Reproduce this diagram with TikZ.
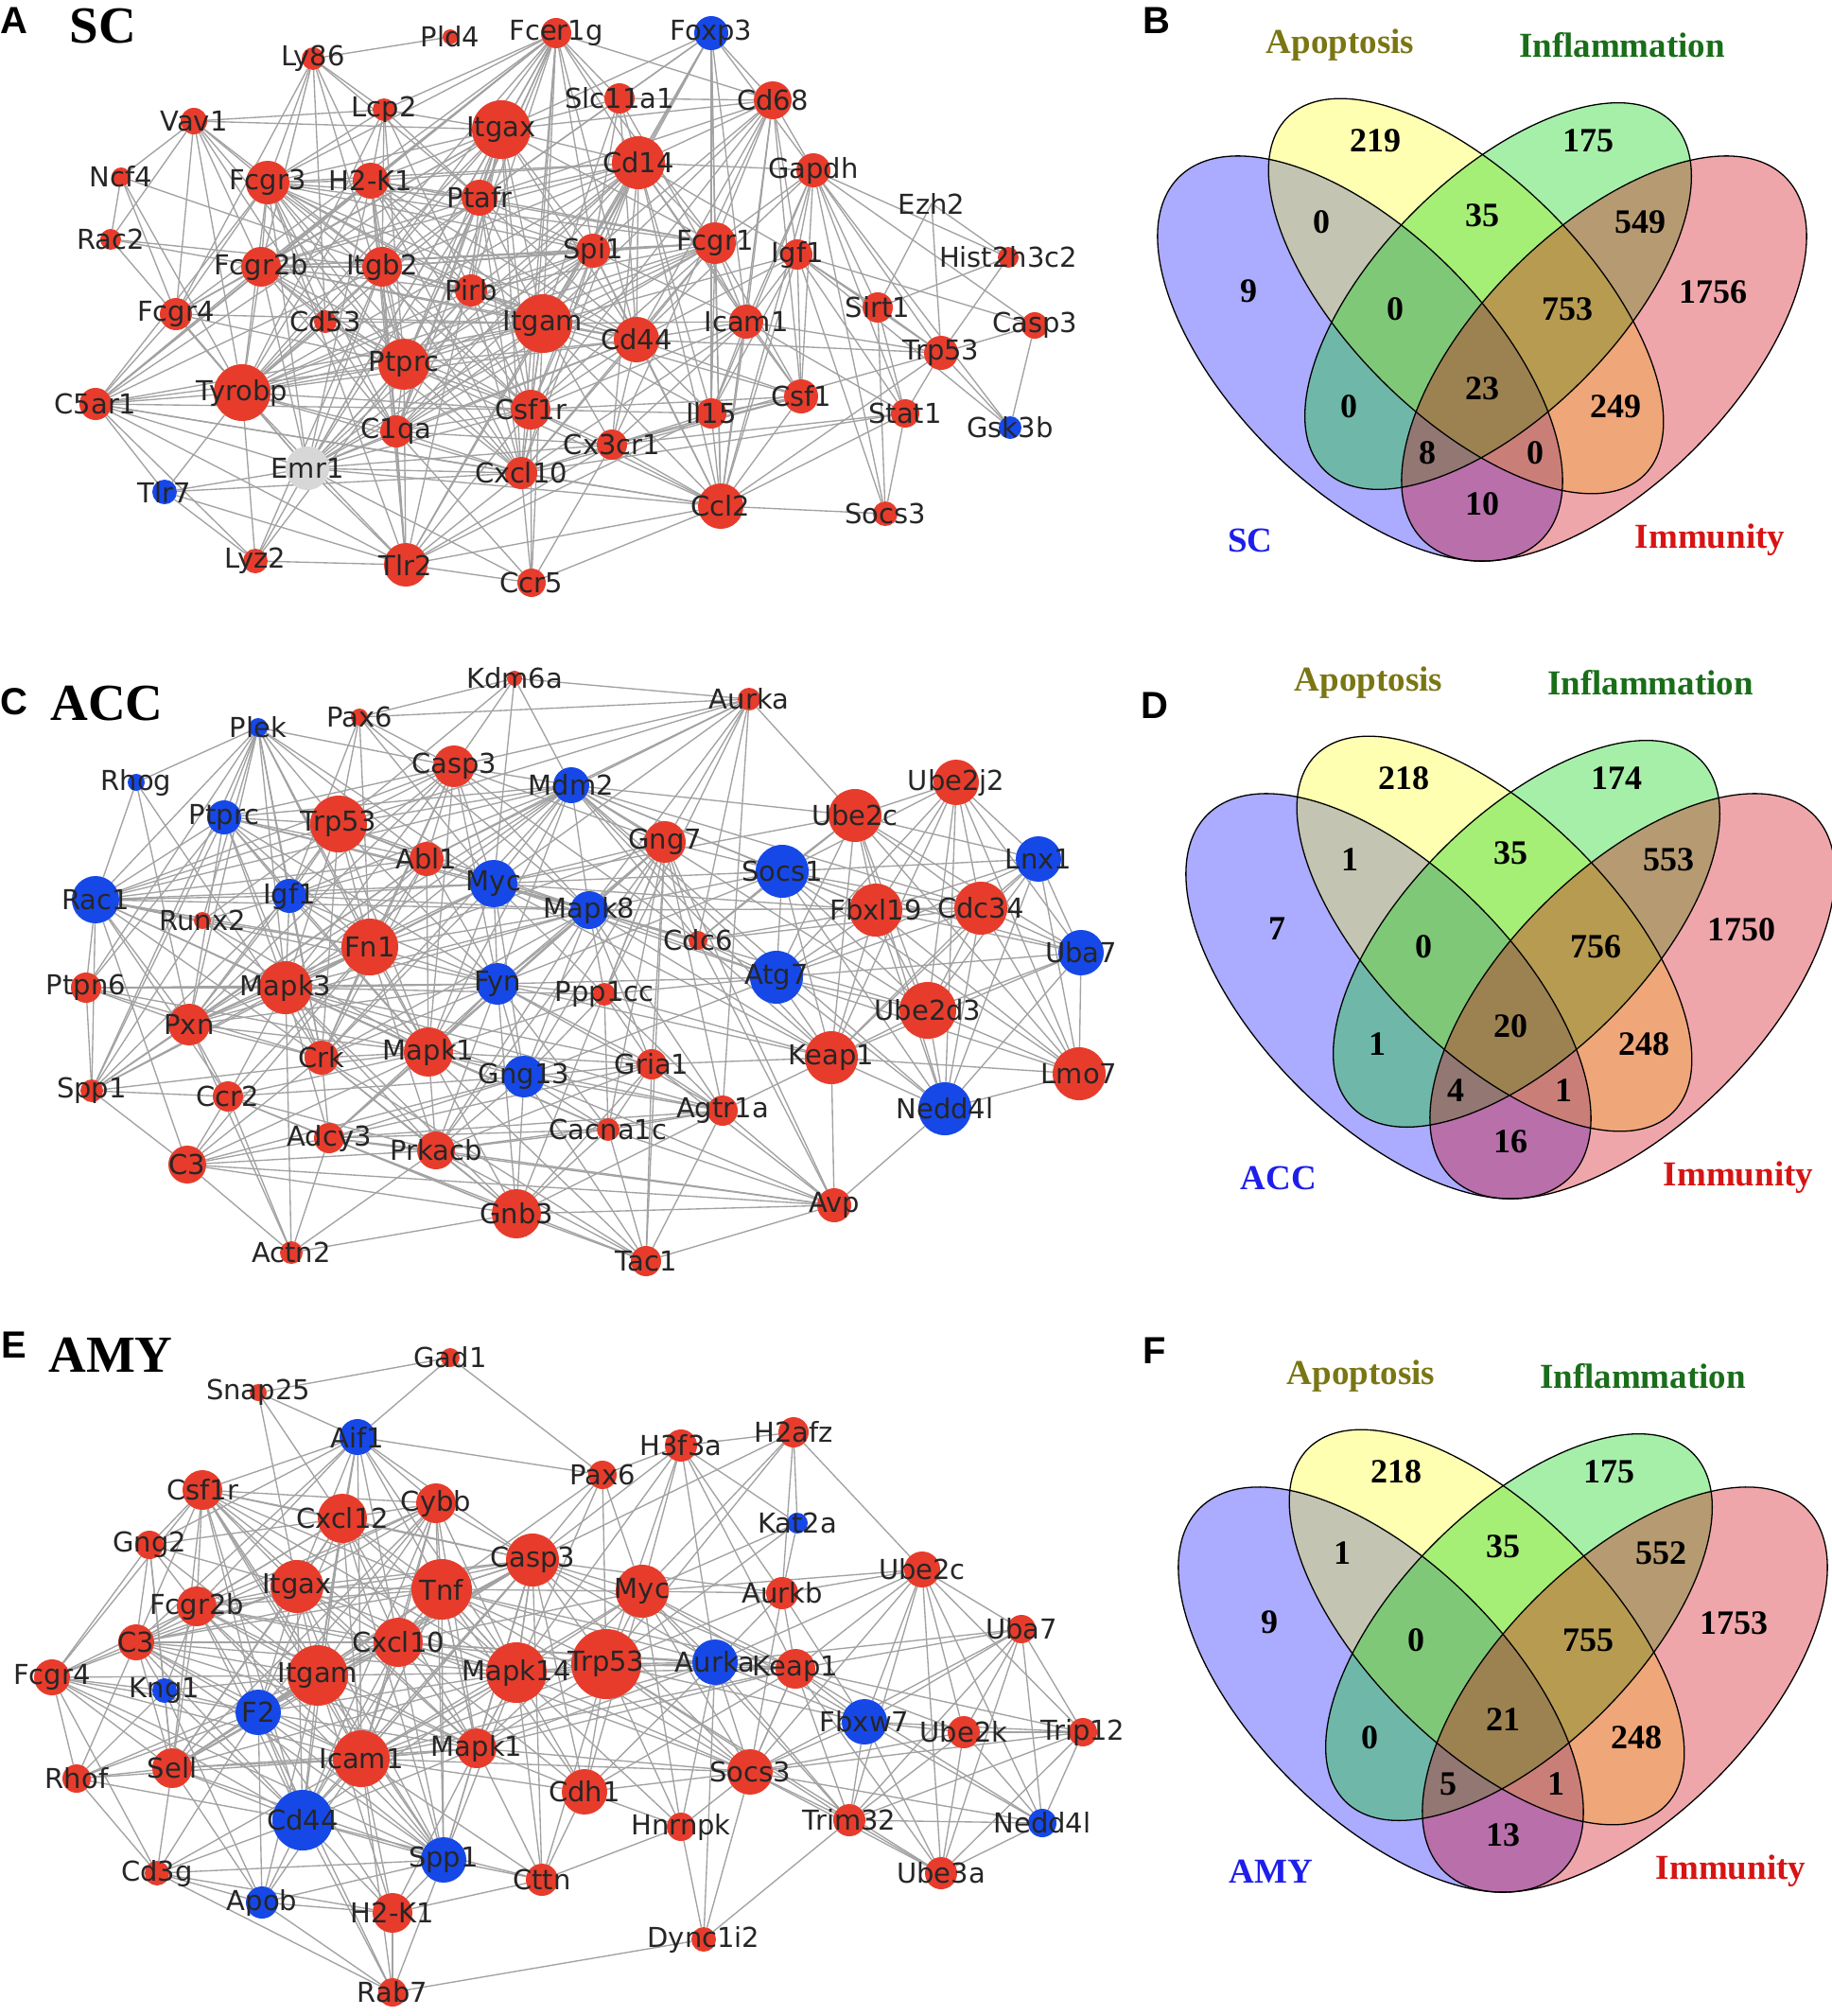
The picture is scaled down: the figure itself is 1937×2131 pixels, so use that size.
\documentclass[tikz,border=0pt]{standalone}
\usepackage{fontspec}
\setmainfont{Liberation Serif}
\newfontfamily\labfont{DejaVu Sans}
\newfontfamily\letfont{Liberation Sans}
\pgfdeclarelayer{bglayer}
\pgfdeclarelayer{edgelayer}
\pgfdeclarelayer{labellayer}
\pgfsetlayers{bglayer,edgelayer,main,labellayer}
\definecolor{nred}{RGB}{231,60,44}
\definecolor{nblue}{RGB}{22,72,232}
\definecolor{ngray}{RGB}{215,215,215}
\definecolor{ecol}{RGB}{162,162,162}
\definecolor{vblue}{RGB}{0,0,255}
\definecolor{vyellow}{RGB}{255,255,0}
\definecolor{vgreen}{RGB}{0,210,10}
\definecolor{vred}{RGB}{212,0,12}
\definecolor{capop}{RGB}{122,118,20}
\definecolor{cinfl}{RGB}{26,110,26}
\definecolor{cset}{RGB}{30,30,235}
\definecolor{cimm}{RGB}{215,20,20}
\tikzset{
 gcirc/.style={circle, draw=none, inner sep=0pt, outer sep=0pt},
 glab/.style={inner sep=0pt, font=\labfont\fontsize{29}{30}\selectfont, text=black!85},
 gedge/.style={draw=ecol, line width=1.35pt},
 ttl/.style={font=\bfseries\fontsize{55}{56}\selectfont, inner sep=0pt},
 plet/.style={font=\letfont\bfseries\fontsize{40}{40}\selectfont, inner sep=0pt},
 vnum/.style={font=\bfseries\fontsize{36}{38}\selectfont, inner sep=0pt},
 vcat/.style={font=\bfseries\fontsize{37}{39}\selectfont, inner sep=0pt},
 vline/.style={draw=black, line width=1.3pt},
}
\newcommand{\gnode}[6]{%
  \node[gcirc, fill=#5, minimum size={2*#4*1pt}] (#1) at (#2,#3) {};%
  \begin{pgfonlayer}{labellayer}\node[glab] (#1L) at (#2,#3) {#6};\end{pgfonlayer}%
}
\newcommand{\edgelist}[1]{%
  \begin{pgfonlayer}{edgelayer}\foreach \u/\v in {#1}{\draw[gedge] (\u) -- (\v);}\end{pgfonlayer}}
\newcommand{\clique}[1]{%
  \begin{pgfonlayer}{edgelayer}\foreach \u [count=\i] in {#1}{\foreach \v [count=\j] in {#1}{\ifnum\j>\i\relax\draw[gedge] (\u) -- (\v);\fi}}\end{pgfonlayer}}
\newcommand{\venn}[4]{%
 \begin{scope}[shift={(#1,#2)}]
  \fill[vblue, fill opacity=0.33, shift={(-129,230)}, rotate=-45] (0,0) ellipse [x radius=271pt, y radius=135pt];
  \fill[vyellow, fill opacity=0.3, shift={(-17,164)}, rotate=-45] (0,0) ellipse [x radius=267pt, y radius=126pt];
  \fill[vgreen, fill opacity=0.35, shift={(17,164)}, rotate=45] (0,0) ellipse [x radius=260pt, y radius=126pt];
  \fill[vred, fill opacity=0.35, shift={(129,230)}, rotate=45] (0,0) ellipse [x radius=271pt, y radius=135pt];
  \draw[vline, shift={(-129,230)}, rotate=-45] (0,0) ellipse [x radius=271pt, y radius=135pt];
  \draw[vline, shift={(129,230)}, rotate=45] (0,0) ellipse [x radius=271pt, y radius=135pt];
  \draw[vline, shift={(-17,164)}, rotate=-45] (0,0) ellipse [x radius=267pt, y radius=126pt];
  \draw[vline, shift={(17,164)}, rotate=45] (0,0) ellipse [x radius=260pt, y radius=126pt];
  \node[vcat, text=capop] (#4apo) at (-150,-101) {Apoptosis};
  \node[vcat, text=cinfl] (#4inf) at (148,-101) {Inflammation};
  \node[vcat, text=cset] (#4set) at (-245,422) {#3};
  \node[vcat, text=cimm] (#4imm) at (241,422) {Immunity};
 \end{scope}}
\newcommand{\vnums}[4]{%
 \begin{scope}[shift={(#1,#2)}]
 \foreach \n [count=\k from 0] in {#4}{%
  \pgfmathsetmacro{\xx}{{-113,112,-170,0,167,-247,-92,90,244,-141,0,141,-58,56,0}[\k]}%
  \pgfmathsetmacro{\yy}{{0,0,86,79,86,159,178,178,160,281,262,281,330,330,384}[\k]}%
  \node[vnum] (#3n\k) at (\xx,\yy) {\n};}
 \end{scope}}
\begin{document}
\begin{tikzpicture}[x=1pt,y=-1pt]
\useasboundingbox (0,0) rectangle (1937,2131);
\begin{pgfonlayer}{bglayer}\fill[white] (0,0) rectangle (1937,2131);\end{pgfonlayer}
% ---------------- Panel A ----------------
\node[plet] (letA) at (15,22) {A};
\node[ttl] (ttlA) at (109,28) {SC};
\gnode{aLy86}{331}{62}{12}{nred}{Ly86}
\gnode{aPld4}{476}{39}{8}{nred}{Pld4}
\gnode{aFcer1g}{588}{35}{16}{nred}{Fcer1g}
\gnode{aFoxp3}{752}{35}{18}{nblue}{Foxp3}
\gnode{aVav1}{205}{128}{14}{nred}{Vav1}
\gnode{aLcp2}{406}{116}{12}{nred}{Lcp2}
\gnode{aItgax}{530}{137}{31}{nred}{Itgax}
\gnode{aSlc11a1}{655}{104}{16}{nred}{Slc11a1}
\gnode{aCd68}{817}{106}{20}{nred}{Cd68}
\gnode{aNcf4}{128}{187}{10}{nred}{Ncf4}
\gnode{aFcgr3}{283}{193}{23}{nred}{Fcgr3}
\gnode{aH2K1}{392}{191}{19}{nred}{H2-K1}
\gnode{aPtafr}{507}{209}{19}{nred}{Ptafr}
\gnode{aCd14}{675}{172}{28}{nred}{Cd14}
\gnode{aGapdh}{860}{180}{18}{nred}{Gapdh}
\gnode{aEzh2}{985}{215}{0}{none}{Ezh2}
\gnode{aHist}{1066}{272}{11}{nred}{Hist2h3c2}
\gnode{aRac2}{117}{253}{11}{nred}{Rac2}
\gnode{aFcgr2b}{276}{282}{21}{nred}{Fcgr2b}
\gnode{aItgb2}{404}{282}{21}{nred}{Itgb2}
\gnode{aPirb}{498}{307}{17}{nred}{Pirb}
\gnode{aSpi1}{627}{265}{18}{nred}{Spi1}
\gnode{aFcgr1}{756}{257}{22}{nred}{Fcgr1}
\gnode{aIgf1}{843}{269}{16}{nred}{Igf1}
\gnode{aFcgr4}{186}{332}{17}{nred}{Fcgr4}
\gnode{aCd53}{344}{340}{12}{nred}{Cd53}
\gnode{aItgam}{574}{342}{31}{nred}{Itgam}
\gnode{aCd44}{673}{359}{24}{nred}{Cd44}
\gnode{aIcam1}{789}{340}{18}{nred}{Icam1}
\gnode{aSirt1}{928}{325}{16}{nred}{Sirt1}
\gnode{aCasp3}{1094}{344}{14}{nred}{Casp3}
\gnode{aTrp53}{995}{373}{18}{nred}{Trp53}
\gnode{aPtprc}{427}{385}{27}{nred}{Ptprc}
\gnode{aTyrobp}{256}{415}{30}{nred}{Tyrobp}
\gnode{aC5ar1}{101}{427}{17}{nred}{C5ar1}
\gnode{aCsf1r}{561}{433}{21}{nred}{Csf1r}
\gnode{aIl15}{752}{437}{16}{nred}{Il15}
\gnode{aCsf1}{847}{419}{18}{nred}{Csf1}
\gnode{aStat1}{957}{437}{15}{nred}{Stat1}
\gnode{aGsk3b}{1068}{452}{12}{nblue}{Gsk3b}
\gnode{aC1qa}{419}{456}{17}{nred}{C1qa}
\gnode{aEmr1}{325}{495}{23}{ngray}{Emr1}
\gnode{aCxcl10}{551}{500}{17}{nred}{Cxcl10}
\gnode{aCx3cr1}{647}{470}{16}{nred}{Cx3cr1}
\gnode{aTlr7}{174}{520}{13}{nblue}{Tlr7}
\gnode{aCcl2}{762}{535}{24}{nred}{Ccl2}
\gnode{aSocs3}{936}{543}{13}{nred}{Socs3}
\gnode{aLyz2}{270}{593}{13}{nred}{Lyz2}
\gnode{aTlr2}{429}{597}{23}{nred}{Tlr2}
\gnode{aCcr5}{562}{616}{15}{nred}{Ccr5}
\clique{aItgax,aItgam,aPtprc,aItgb2,aFcgr3,aFcgr2b,aFcgr1,aCd14,aCd44,aCsf1r,aTyrobp,aH2K1,aPtafr,aPirb,aSpi1,aFcer1g,aC1qa,aEmr1,aCxcl10}
\edgelist{aLy86/aPld4,aLy86/aFcgr3,aLy86/aFcgr2b,aLy86/aFcgr4,aLy86/aH2K1,aLy86/aCd53,aLy86/aPtafr,aLy86/aPtprc,aLy86/aLcp2,
aVav1/aNcf4,aVav1/aRac2,aVav1/aLcp2,aVav1/aFcgr3,aVav1/aFcgr2b,aVav1/aFcgr4,aVav1/aItgb2,aVav1/aCd53,aVav1/aPtprc,aVav1/aTyrobp,aVav1/aItgax,
aNcf4/aRac2,aNcf4/aItgb2,aNcf4/aTyrobp,aNcf4/aFcgr4,aRac2/aItgb2,aRac2/aFcgr2b,aRac2/aTyrobp,
aLcp2/aPtprc,aLcp2/aItgb2,aLcp2/aH2K1,aLcp2/aFcgr3,aLcp2/aFcer1g,aLcp2/aTyrobp,aLcp2/aPirb,aLcp2/aItgax,aLcp2/aPtafr,
aFcgr4/aFcgr3,aFcgr4/aFcgr2b,aFcgr4/aItgax,aFcgr4/aTyrobp,aFcgr4/aFcer1g,aFcgr4/aC5ar1,aFcgr4/aItgam,aFcgr4/aEmr1,aFcgr4/aPtprc,
aCd53/aPtprc,aCd53/aItgb2,aCd53/aTyrobp,aCd53/aFcgr3,aCd53/aItgam,aCd53/aCsf1r,aCd53/aFcgr2b,aCd53/aC1qa,
aC5ar1/aFcgr3,aC5ar1/aFcgr2b,aC5ar1/aItgb2,aC5ar1/aItgax,aC5ar1/aTyrobp,aC5ar1/aPtprc,aC5ar1/aEmr1,aC5ar1/aCxcl10,aC5ar1/aTlr7,aC5ar1/aTlr2,aC5ar1/aCcl2,aC5ar1/aCsf1r,aC5ar1/aH2K1,aC5ar1/aFcer1g,aC5ar1/aLyz2,aC5ar1/aItgam,
aTlr7/aTyrobp,aTlr7/aEmr1,aTlr7/aTlr2,aTlr7/aLyz2,aTlr7/aCxcl10,
aLyz2/aTyrobp,aLyz2/aEmr1,aLyz2/aTlr2,aLyz2/aPtprc,aLyz2/aItgb2,
aTlr2/aTyrobp,aTlr2/aEmr1,aTlr2/aPtprc,aTlr2/aC1qa,aTlr2/aCxcl10,aTlr2/aCsf1r,aTlr2/aItgam,aTlr2/aCcr5,aTlr2/aCcl2,aTlr2/aCd14,aTlr2/aItgax,aTlr2/aFcgr3,aTlr2/aItgb2,aTlr2/aH2K1,aTlr2/aCx3cr1,aTlr2/aIl15,
aCcr5/aCcl2,aCcr5/aCx3cr1,aCcr5/aCxcl10,aCcr5/aCsf1r,aCcr5/aItgam,aCcr5/aC1qa,aCcr5/aEmr1,
aFoxp3/aSlc11a1,aFoxp3/aCd68,aFoxp3/aCd14,aFoxp3/aItgax,aFoxp3/aIl15,aFoxp3/aCcl2,aFoxp3/aGapdh,aFoxp3/aFcgr1,aFoxp3/aIcam1,aFoxp3/aSpi1,aFoxp3/aItgam,aFoxp3/aPtafr,
aSlc11a1/aCd68,aSlc11a1/aCd14,aSlc11a1/aItgax,aSlc11a1/aItgam,aSlc11a1/aSpi1,aSlc11a1/aCd44,aSlc11a1/aFcer1g,aSlc11a1/aIcam1,aSlc11a1/aPtafr,
aCd68/aCd14,aCd68/aGapdh,aCd68/aFcgr1,aCd68/aIgf1,aCd68/aIcam1,aCd68/aCcl2,aCd68/aItgam,aCd68/aItgax,aCd68/aSpi1,aCd68/aCd44,aCd68/aCsf1r,aCd68/aCsf1,aCd68/aPtafr,aCd68/aCx3cr1,aCd68/aFcer1g,
aGapdh/aIgf1,aGapdh/aSirt1,aGapdh/aTrp53,aGapdh/aCasp3,aGapdh/aStat1,aGapdh/aSocs3,aGapdh/aCsf1,aGapdh/aIcam1,aGapdh/aCd14,aGapdh/aCd44,aGapdh/aFcgr1,aGapdh/aCcl2,aGapdh/aGsk3b,aGapdh/aIl15,
aEzh2/aHist,aEzh2/aSirt1,aEzh2/aTrp53,aHist/aSirt1,aHist/aGapdh,aHist/aTrp53,
aIgf1/aSirt1,aIgf1/aTrp53,aIgf1/aCasp3,aIgf1/aCsf1,aIgf1/aSocs3,aIgf1/aStat1,aIgf1/aIl15,aIgf1/aIcam1,aIgf1/aCcl2,aIgf1/aCd44,aIgf1/aItgam,aIgf1/aCd14,aIgf1/aGsk3b,
aSirt1/aTrp53,aSirt1/aStat1,aSirt1/aSocs3,
aTrp53/aCasp3,aTrp53/aGsk3b,aTrp53/aStat1,aTrp53/aCcl2,aTrp53/aCd44,aTrp53/aIcam1,aTrp53/aCx3cr1,aCasp3/aGsk3b,
aStat1/aSocs3,aStat1/aCcl2,aStat1/aCx3cr1,aStat1/aCxcl10,aStat1/aIcam1,aSocs3/aCcl2,
aCcl2/aIl15,aCcl2/aCx3cr1,aCcl2/aCd44,aCcl2/aIcam1,aCcl2/aCsf1,aCcl2/aCxcl10,aCcl2/aCsf1r,aCcl2/aItgam,aCcl2/aFcgr1,aCcl2/aCd14,aCcl2/aSpi1,aCcl2/aEmr1,aCcl2/aPtprc,
aIl15/aCd44,aIl15/aIcam1,aIl15/aCsf1,aIl15/aItgam,aIl15/aCsf1r,aIl15/aCx3cr1,aIl15/aCd14,aIl15/aFcgr1,
aCsf1/aCsf1r,aCsf1/aCd44,aCsf1/aIcam1,aCsf1/aItgam,aCsf1/aCx3cr1,aCsf1/aCxcl10,aCsf1/aCd14,aCsf1/aFcgr1,
aIcam1/aCd44,aIcam1/aItgam,aIcam1/aCd14,aIcam1/aFcgr1,aIcam1/aCsf1r,aIcam1/aCxcl10,aIcam1/aSpi1,aIcam1/aCx3cr1,
aCx3cr1/aCsf1r,aCx3cr1/aItgam,aCx3cr1/aCd44,aCx3cr1/aCxcl10,aCx3cr1/aC1qa,aCx3cr1/aEmr1,aCx3cr1/aCd14}
% ---------------- Panel C ----------------
\node[plet] (letC) at (15,742) {C};
\node[ttl] (ttlC) at (113,744) {ACC};
\gnode{cKdm6a}{544}{717}{8}{nred}{Kdm6a}
\gnode{cPlek}{273}{769}{10}{nblue}{Plek}
\gnode{cPax6}{380}{758}{9}{nred}{Pax6}
\gnode{cRhog}{144}{827}{9}{nblue}{Rhog}
\gnode{cCasp3}{480}{810}{22}{nred}{Casp3}
\gnode{cMdm2}{604}{830}{19}{nblue}{Mdm2}
\gnode{cPtprc}{237}{864}{18}{nblue}{Ptprc}
\gnode{cTrp53}{358}{871}{30}{nred}{Trp53}
\gnode{cAbl1}{451}{908}{18}{nred}{Abl1}
\gnode{cMyc}{522}{934}{25}{nblue}{Myc}
\gnode{cRac1}{101}{951}{25}{nblue}{Rac1}
\gnode{cIgf1}{306}{947}{18}{nblue}{Igf1}
\gnode{cRunx2}{214}{973}{9}{nred}{Runx2}
\gnode{cFn1}{391}{1001}{30}{nred}{Fn1}
\gnode{cMapk8}{623}{962}{20}{nblue}{Mapk8}
\gnode{cPtpn6}{91}{1044}{16}{nred}{Ptpn6}
\gnode{cMapk3}{302}{1044}{28}{nred}{Mapk3}
\gnode{cFyn}{526}{1040}{22}{nblue}{Fyn}
\gnode{cPxn}{200}{1083}{22}{nred}{Pxn}
\gnode{cCrk}{340}{1118}{18}{nred}{Crk}
\gnode{cMapk1}{453}{1112}{26}{nred}{Mapk1}
\gnode{cGng13}{554}{1138}{22}{nblue}{Gng13}
\gnode{cSpp1}{97}{1153}{12}{nred}{Spp1}
\gnode{cCcr2}{241}{1159}{16}{nred}{Ccr2}
\gnode{cAdcy3}{348}{1203}{16}{nred}{Adcy3}
\gnode{cPrkacb}{461}{1216}{20}{nred}{Prkacb}
\gnode{cC3}{198}{1231}{20}{nred}{C3}
\gnode{cGnb3}{546}{1283}{26}{nred}{Gnb3}
\gnode{cActn2}{308}{1324}{12}{nred}{Actn2}
\gnode{cAurka}{792}{739}{12}{nred}{Aurka}
\gnode{cUbe2c}{904}{862}{28}{nred}{Ube2c}
\gnode{cUbe2j2}{1011}{827}{24}{nred}{Ube2j2}
\gnode{cGng7}{703}{890}{22}{nred}{Gng7}
\gnode{cSocs1}{827}{921}{28}{nblue}{Socs1}
\gnode{cLnx1}{1098}{908}{24}{nblue}{Lnx1}
\gnode{cFbxl19}{926}{962}{28}{nred}{Fbxl19}
\gnode{cCdc34}{1037}{960}{28}{nred}{Cdc34}
\gnode{cCdc6}{738}{994}{10}{nred}{Cdc6}
\gnode{cUba7}{1143}{1007}{24}{nblue}{Uba7}
\gnode{cAtg7}{821}{1033}{28}{nblue}{Atg7}
\gnode{cPpp1cc}{639}{1051}{12}{nred}{Ppp1cc}
\gnode{cUbe2d3}{981}{1068}{30}{nred}{Ube2d3}
\gnode{cKeap1}{879}{1118}{28}{nred}{Keap1}
\gnode{cGria1}{689}{1125}{16}{nred}{Gria1}
\gnode{cLmo7}{1141}{1135}{28}{nred}{Lmo7}
\gnode{cNedd4l}{999}{1172}{28}{nblue}{Nedd4l}
\gnode{cAgtr1a}{764}{1174}{16}{nred}{Agtr1a}
\gnode{cCacna1c}{643}{1194}{12}{nred}{Cacna1c}
\gnode{cAvp}{882}{1274}{18}{nred}{Avp}
\gnode{cTac1}{683}{1333}{16}{nred}{Tac1}
\clique{cTrp53,cFn1,cMapk3,cMapk1,cMyc,cIgf1,cAbl1,cCasp3,cFyn,cPxn,cCrk,cRac1,cMapk8,cMdm2,cPtprc}
\clique{cGng13,cGnb3,cPrkacb,cAdcy3,cGng7,cCacna1c,cGria1,cAgtr1a,cTac1,cAvp}
\clique{cUbe2c,cUbe2j2,cSocs1,cLnx1,cFbxl19,cCdc34,cUba7,cAtg7,cUbe2d3,cKeap1,cLmo7,cNedd4l}
\edgelist{cPlek/cRhog,cPlek/cPtprc,cPlek/cRac1,cPlek/cIgf1,cPlek/cTrp53,cPlek/cFn1,cPlek/cMapk3,cPlek/cPxn,cPlek/cMapk1,cPlek/cRunx2,cPlek/cCrk,cPlek/cMyc,cPlek/cCasp3,cPlek/cAbl1,cPlek/cPtpn6,cPlek/cSpp1,
cRhog/cRac1,cRhog/cPxn,cRhog/cCrk,
cKdm6a/cPax6,cKdm6a/cCasp3,cKdm6a/cMyc,cKdm6a/cAurka,cKdm6a/cMdm2,cKdm6a/cTrp53,
cPax6/cCasp3,cPax6/cTrp53,cPax6/cFn1,cPax6/cMyc,cPax6/cMapk8,cPax6/cIgf1,cPax6/cAurka,
cRac1/cRunx2,cRac1/cPtpn6,cRac1/cSpp1,cRac1/cC3,cRac1/cCcr2,
cRunx2/cFn1,cRunx2/cMapk3,cRunx2/cSpp1,cRunx2/cIgf1,cRunx2/cTrp53,cRunx2/cMapk1,
cPtpn6/cPtprc,cPtpn6/cMapk3,cPtpn6/cPxn,cPtpn6/cFyn,cPtpn6/cMapk1,cPtpn6/cSpp1,cPtpn6/cCrk,
cSpp1/cPxn,cSpp1/cCcr2,cSpp1/cC3,cSpp1/cFn1,cSpp1/cMapk3,cSpp1/cIgf1,cSpp1/cMapk1,cSpp1/cPtprc,cSpp1/cAbl1,
cCcr2/cC3,cCcr2/cMapk3,cCcr2/cMapk1,cCcr2/cPxn,cCcr2/cGnb3,cCcr2/cPrkacb,cCcr2/cAdcy3,cCcr2/cActn2,cCcr2/cFn1,cCcr2/cGng13,
cC3/cGnb3,cC3/cPrkacb,cC3/cAdcy3,cC3/cCrk,cC3/cMapk1,cC3/cGng13,cC3/cAvp,cC3/cFn1,
cActn2/cC3,cActn2/cAdcy3,cActn2/cGnb3,cActn2/cMapk3,cActn2/cPxn,cActn2/cPrkacb,
cAdcy3/cMapk1,cAdcy3/cMapk3,cAdcy3/cCrk,cAdcy3/cFyn,
cPrkacb/cMapk1,cPrkacb/cMapk3,cPrkacb/cCrk,cPrkacb/cFyn,cPrkacb/cMapk8,cPrkacb/cFn1,
cGnb3/cMapk1,cGnb3/cCrk,cGnb3/cMapk3,cGnb3/cFyn,
cGng13/cMapk1,cGng13/cFyn,cGng13/cMapk8,cGng13/cMyc,cGng13/cMapk3,
cAurka/cCasp3,cAurka/cMdm2,cAurka/cMyc,cAurka/cUbe2c,cAurka/cCdc6,cAurka/cGng7,cAurka/cTrp53,cAurka/cMapk8,cAurka/cAgtr1a,cAurka/cPpp1cc,cAurka/cAbl1,
cGng7/cMapk8,cGng7/cCdc6,cGng7/cSocs1,cGng7/cMyc,cGng7/cPpp1cc,cGng7/cFyn,cGng7/cMdm2,cGng7/cFn1,cGng7/cCasp3,
cCdc6/cSocs1,cCdc6/cMapk8,cCdc6/cMyc,cCdc6/cUbe2c,cCdc6/cAtg7,cCdc6/cFbxl19,cCdc6/cCdc34,cCdc6/cMdm2,cCdc6/cCasp3,cCdc6/cKeap1,
cPpp1cc/cMapk8,cPpp1cc/cFyn,cPpp1cc/cGria1,cPpp1cc/cCacna1c,cPpp1cc/cAgtr1a,cPpp1cc/cMapk1,cPpp1cc/cMapk3,cPpp1cc/cKeap1,cPpp1cc/cMyc,cPpp1cc/cGng13,
cMdm2/cUbe2c,cMdm2/cSocs1,cMdm2/cCdc34,cMdm2/cUbe2d3,cMdm2/cKeap1,cMdm2/cFbxl19,cMdm2/cNedd4l,cMdm2/cAtg7,
cMyc/cSocs1,cMyc/cUbe2c,cMyc/cAtg7,cMyc/cKeap1,cMyc/cFbxl19,
cMapk8/cSocs1,cMapk8/cAtg7,cMapk8/cKeap1,cMapk8/cUbe2d3,cMapk8/cCdc34,cMapk8/cGria1,
cFyn/cAtg7,cFyn/cKeap1,cFyn/cSocs1,cFyn/cGria1,cFyn/cCacna1c,
cAvp/cNedd4l,cAvp/cKeap1,cAvp/cCdc6,
cTac1/cMapk1,cTac1/cCrk,
cAgtr1a/cKeap1,cAgtr1a/cMapk1,cAgtr1a/cMapk3,cAgtr1a/cFyn,cAgtr1a/cMapk8,
cGria1/cMapk1,cGria1/cMapk3,cGria1/cKeap1,
cCacna1c/cMapk1,cCacna1c/cMapk3,cAtg7/cGng13,cAtg7/cPpp1cc}
% ---------------- Panel E ----------------
\node[plet] (letE) at (15,1422) {E};
\node[ttl] (ttlE) at (117,1432) {AMY};
\gnode{eGad1}{476}{1435}{10}{nred}{Gad1}
\gnode{eSnap25}{273}{1472}{9}{nred}{Snap25}
\gnode{eAif1}{378}{1519}{19}{nblue}{Aif1}
\gnode{eCsf1r}{214}{1575}{21}{nred}{Csf1r}
\gnode{eCxcl12}{362}{1605}{26}{nred}{Cxcl12}
\gnode{eCybb}{461}{1589}{21}{nred}{Cybb}
\gnode{eGng2}{158}{1633}{15}{nred}{Gng2}
\gnode{eCasp3}{563}{1649}{28}{nred}{Casp3}
\gnode{eItgax}{314}{1677}{28}{nred}{Itgax}
\gnode{eTnf}{467}{1680}{32}{nred}{Tnf}
\gnode{eFcgr2b}{208}{1698}{21}{nred}{Fcgr2b}
\gnode{eC3}{144}{1736}{19}{nred}{C3}
\gnode{eCxcl10}{421}{1736}{26}{nred}{Cxcl10}
\gnode{eFcgr4}{55}{1773}{19}{nred}{Fcgr4}
\gnode{eItgam}{336}{1771}{32}{nred}{Itgam}
\gnode{eMapk14}{546}{1768}{32}{nred}{Mapk14}
\gnode{eKng1}{174}{1787}{13}{nblue}{Kng1}
\gnode{eF2}{273}{1810}{24}{nblue}{F2}
\gnode{eIcam1}{382}{1859}{30}{nred}{Icam1}
\gnode{eMapk1}{504}{1848}{21}{nred}{Mapk1}
\gnode{eSell}{182}{1869}{21}{nred}{Sell}
\gnode{eRhof}{81}{1880}{15}{nred}{Rhof}
\gnode{eCd44}{320}{1924}{32}{nblue}{Cd44}
\gnode{eCd3g}{166}{1980}{13}{nred}{Cd3g}
\gnode{eSpp1}{469}{1966}{24}{nblue}{Spp1}
\gnode{eCttn}{573}{1987}{17}{nred}{Cttn}
\gnode{eApob}{277}{2011}{17}{nblue}{Apob}
\gnode{eH2K1}{415}{2022}{21}{nred}{H2-K1}
\gnode{eRab7}{415}{2106}{15}{nred}{Rab7}
\gnode{eCdh1}{618}{1894}{24}{nred}{Cdh1}
\gnode{eH3f3a}{720}{1528}{17}{nred}{H3f3a}
\gnode{eH2afz}{839}{1514}{16}{nred}{H2afz}
\gnode{ePax6}{637}{1559}{15}{nred}{Pax6}
\gnode{eKat2a}{843}{1610}{11}{nblue}{Kat2a}
\gnode{eMyc}{679}{1682}{28}{nred}{Myc}
\gnode{eAurkb}{827}{1684}{17}{nred}{Aurkb}
\gnode{eUbe2c}{975}{1659}{19}{nred}{Ube2c}
\gnode{eUba7}{1080}{1722}{15}{nred}{Uba7}
\gnode{eTrp53}{641}{1759}{37}{nred}{Trp53}
\gnode{eAurka}{756}{1757}{24}{nblue}{Aurka}
\gnode{eKeap1}{841}{1764}{21}{nred}{Keap1}
\gnode{eFbxw7}{914}{1820}{24}{nblue}{Fbxw7}
\gnode{eUbe2k}{1019}{1831}{17}{nred}{Ube2k}
\gnode{eTrip12}{1145}{1831}{15}{nred}{Trip12}
\gnode{eSocs3}{793}{1873}{24}{nred}{Socs3}
\gnode{eHnrnpk}{720}{1931}{15}{nred}{Hnrnpk}
\gnode{eTrim32}{898}{1924}{17}{nred}{Trim32}
\gnode{eNedd4l}{1102}{1927}{15}{nblue}{Nedd4l}
\gnode{eUbe3a}{995}{1980}{17}{nred}{Ube3a}
\gnode{eDync1i2}{744}{2050}{13}{nred}{Dync1i2}
\clique{eCsf1r,eCxcl12,eCybb,eItgax,eTnf,eFcgr2b,eC3,eCxcl10,eItgam,eMapk14,eF2,eIcam1,eMapk1,eSell,eCd44,eSpp1,eCasp3}
\clique{eTrp53,eMyc,eCasp3,eMapk14,eCdh1,eAurka,eKeap1,eSocs3,eTnf,eCxcl10,eMapk1,eIcam1}
\clique{eUbe2c,eUba7,eUbe2k,eTrip12,eNedd4l,eUbe3a,eTrim32,eFbxw7,eKeap1,eSocs3}
\edgelist{eGad1/eSnap25,eGad1/eAif1,eGad1/ePax6,eSnap25/eAif1,eSnap25/eItgax,eSnap25/eCxcl12,
eAif1/ePax6,eAif1/eCsf1r,eAif1/eCxcl12,eAif1/eCybb,eAif1/eItgax,eAif1/eTnf,eAif1/eCasp3,eAif1/eItgam,eAif1/eCxcl10,eAif1/eIcam1,eAif1/eFcgr2b,eAif1/eMapk14,eAif1/eGng2,eAif1/eC3,
eGng2/eCsf1r,eGng2/eFcgr2b,eGng2/eC3,eGng2/eFcgr4,eGng2/eItgax,eGng2/eKng1,eGng2/eSell,eGng2/eItgam,eGng2/eCxcl12,
eFcgr4/eC3,eFcgr4/eFcgr2b,eFcgr4/eCsf1r,eFcgr4/eKng1,eFcgr4/eItgam,eFcgr4/eSell,eFcgr4/eRhof,eFcgr4/eCd44,eFcgr4/eF2,eFcgr4/eIcam1,eFcgr4/eCd3g,eFcgr4/eItgax,eFcgr4/eSpp1,
eKng1/eC3,eKng1/eF2,eKng1/eSell,eKng1/eFcgr2b,eKng1/eItgam,eKng1/eApob,eKng1/eCd44,
eRhof/eSell,eRhof/eCd44,eRhof/eF2,eRhof/eItgam,eRhof/eCd3g,eRhof/eKng1,eRhof/eC3,eRhof/eIcam1,
eCd3g/eSell,eCd3g/eCd44,eCd3g/eApob,eCd3g/eH2K1,eCd3g/eSpp1,eCd3g/eF2,eCd3g/eIcam1,
eApob/eCd44,eApob/eF2,eApob/eH2K1,eApob/eRab7,eApob/eSpp1,eApob/eIcam1,eApob/eSell,eApob/eItgam,
eRab7/eH2K1,eRab7/eCd44,eRab7/eSpp1,eRab7/eIcam1,eRab7/eCd3g,eRab7/eDync1i2,eRab7/eF2,
eH2K1/eCd44,eH2K1/eSpp1,eH2K1/eIcam1,eH2K1/eItgam,eH2K1/eMapk1,eH2K1/eCttn,eH2K1/eF2,
eCttn/eSpp1,eCttn/eCdh1,eCttn/eMapk1,eCttn/eIcam1,eCttn/eTrp53,eCttn/eMapk14,eCttn/eCd44,eCttn/eCasp3,
eHnrnpk/eTrp53,eHnrnpk/eMyc,eHnrnpk/eSocs3,eHnrnpk/eDync1i2,eHnrnpk/eCdh1,eHnrnpk/eCttn,eHnrnpk/eAurka,eHnrnpk/eMapk14,
eDync1i2/eSocs3,eDync1i2/eTrim32,eDync1i2/eAurka,
ePax6/eH3f3a,ePax6/eMyc,ePax6/eTrp53,ePax6/eCasp3,ePax6/eTnf,ePax6/eMapk14,
eH2afz/eH3f3a,eH2afz/eKat2a,eH2afz/eUbe2c,eH2afz/eAurkb,eH2afz/eMyc,eH2afz/eCasp3,eH2afz/eTrp53,
eH3f3a/eMyc,eH3f3a/eTrp53,eH3f3a/eKat2a,eH3f3a/eAurkb,eH3f3a/eAurka,eH3f3a/eCasp3,eH3f3a/eKeap1,eH3f3a/eMapk14,
eKat2a/eAurkb,eKat2a/eMyc,eKat2a/eTrp53,
eAurkb/eMyc,eAurkb/eTrp53,eAurkb/eAurka,eAurkb/eUbe2c,eAurkb/eFbxw7,eAurkb/eKeap1,eAurkb/eSocs3,eAurkb/eCasp3,
eUbe2c/eAurka,eUbe2c/eMyc,eUba7/eAurka,
eFbxw7/eAurka,eFbxw7/eMyc,eFbxw7/eTrp53,
eTrim32/eTrp53,eTrim32/eMyc,eTrim32/eAurka,eUbe3a/eTrp53}
% ---------------- Venn diagrams ----------------
\node[plet] (letB) at (1223,22) {B};
\venn{1567}{149}{SC}{B}
\vnums{1567}{149}{B}{219,175,0,35,549,9,0,753,1756,0,23,249,8,0,10}
\node[plet] (letD) at (1221,746) {D};
\venn{1597}{823}{ACC}{D}
\vnums{1597}{823}{D}{218,174,1,35,553,7,0,756,1750,1,20,248,4,1,16}
\node[plet] (letF) at (1221,1428) {F};
\venn{1589}{1556}{AMY}{F}
\vnums{1589}{1556}{F}{218,175,1,35,552,9,0,755,1753,0,21,248,5,1,13}
\end{tikzpicture}
\end{document}
